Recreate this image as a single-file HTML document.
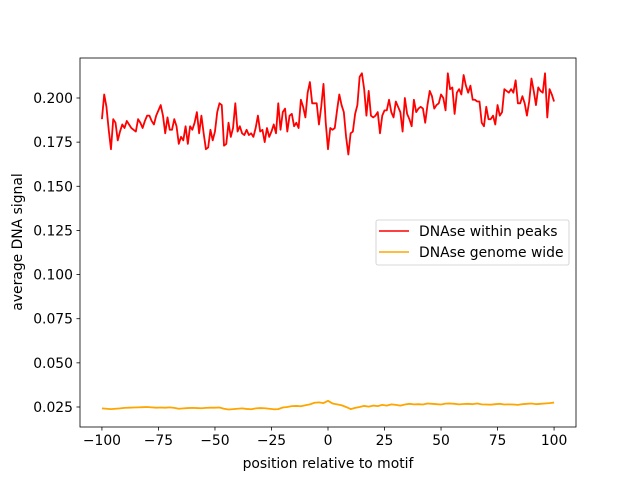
<!DOCTYPE html>
<html><head><meta charset="utf-8"><style>
body{margin:0;background:#fff}
svg text{font-family:"DejaVu Sans","Liberation Sans",sans-serif;font-size:13.9px;fill:#000}
</style></head><body>
<svg id="chart" width="640" height="480" viewBox="0 0 640 480" xmlns="http://www.w3.org/2000/svg">
<rect width="640" height="480" fill="#fff"/>
<g id="plot"></g>
</svg>
<script>
const xTicks=[-100,-75,-50,-25,0,25,50,75,100];
const yTicks=[0.025,0.050,0.075,0.100,0.125,0.150,0.175,0.200];
const yTickLabels=["0.025","0.050","0.075","0.100","0.125","0.150","0.175","0.200"];
const peaksStart=-100;
const peaksValues=[0.188,0.202,0.195,0.182,0.171,0.188,0.186,0.176,0.181,0.185,0.183,0.187,0.185,0.183,0.182,0.181,0.188,0.186,0.183,0.187,0.190,0.190,0.187,0.185,0.190,0.193,0.196,0.190,0.180,0.189,0.182,0.182,0.188,0.184,0.174,0.178,0.176,0.184,0.174,0.184,0.182,0.186,0.192,0.180,0.190,0.180,0.171,0.172,0.182,0.176,0.181,0.192,0.197,0.196,0.173,0.174,0.186,0.178,0.183,0.197,0.181,0.184,0.180,0.179,
0.182,0.179,0.180,0.178,0.183,0.190,0.181,0.182,0.175,0.183,0.178,0.181,0.185,0.180,0.197,0.182,0.192,0.194,0.181,0.190,0.191,0.184,0.186,0.183,0.199,0.195,0.189,0.203,0.209,0.197,0.197,0.197,0.185,0.195,0.208,0.186,0.171,0.183,0.182,0.183,0.193,0.202,0.196,0.192,0.178,0.168,0.180,0.181,0.191,0.196,0.212,0.214,0.205,0.190,0.204,0.190,0.189,0.190,0.192,0.180,0.190,0.193,0.193,0.199,0.192,0.189,0.198,0.195,0.192,0.181,0.200,0.191,0.188,0.184,0.199,0.192,0.194,0.195,0.194,0.186,0.196,0.204,0.201,0.194,0.196,0.197,0.202,0.200,0.193,0.214,0.205,0.206,0.191,0.203,0.205,0.202,0.213,0.207,0.203,0.207,0.199,0.199,0.198,0.198,0.186,0.184,0.195,0.188,0.188,0.190,0.185,0.196,0.190,0.192,0.205,0.204,0.203,0.205,0.203,0.210,0.197,0.197,0.201,0.197,0.190,0.198,0.211,0.204,0.196,0.206,0.204,0.203,0.214,0.189,0.205,0.202,0.198];
const genomeStart=-100, genomeStep=2;
const genomeValues=[.0242,.0240,.0238,.0240,.0242,.0245,.0246,.0247,.0248,.0249,
.0250,.0248,.0246,.0247,.0246,.0248,.0245,.0240,.0242,.0244,
.0245,.0244,.0243,.0245,.0246,.0246,.0247,.0240,.0236,.0238,
.0240,.0242,.0239,.0237,.0242,.0244,.0243,.0240,.0237,.0238,
.0247,.0250,.0255,.0256,.0254,.0260,.0265,.0274,.0276,.0272,
.0285,.0270,.0265,.0260,.0250,.0238,.0245,.0250,.0256,.0252,
.0258,.0255,.0262,.0258,.0265,.0262,.0258,.0264,.0268,.0265,
.0266,.0264,.0270,.0268,.0266,.0264,.0269,.0270,.0268,.0265,
.0267,.0268,.0266,.0270,.0265,.0264,.0263,.0266,.0268,.0264,
.0265,.0264,.0262,.0266,.0268,.0270,.0266,.0268,.0270,.0272,.0275];
const L=80,R=576,T=58,B=427;
const xMin=-109.7,xMax=109.7,yMin=0.01367,yMax=0.22265;
function X(v){return L+(v-xMin)/(xMax-xMin)*(R-L);}
function Y(v){return B-(v-yMin)/(yMax-yMin)*(B-T);}
const NS="http://www.w3.org/2000/svg";
const g=document.getElementById('plot');
function mk(t,a,txt){const e=document.createElementNS(NS,t);for(const k in a)e.setAttribute(k,a[k]);if(txt!==undefined)e.textContent=txt;g.appendChild(e);return e;}
function line(vals,start,step,color,name){
  const p=vals.map((v,i)=>X(start+i*step).toFixed(2)+','+Y(v).toFixed(2)).join(' ');
  const e=mk('polyline',{points:p,fill:'none',stroke:color,'stroke-width':1.8,'stroke-linejoin':'round'});
  
  
}
line(peaksValues,peaksStart,1,'#ff0000','dnase-within-peaks-line');
line(genomeValues,genomeStart,genomeStep,'#ffa500','dnase-genome-wide-line');
const fr=mk('rect',{x:L,y:T,width:R-L,height:B-T,fill:'none',stroke:'#000','stroke-width':0.8});


xTicks.forEach(t=>{
  const x=X(t);
  const tk=mk('line',{x1:x,x2:x,y1:B,y2:B+3.5,stroke:'#000','stroke-width':0.8});
  
  
  const lb=mk('text',{x:x,y:B+18,'text-anchor':'middle'},String(t).replace('-','\u2212'));
  
  
});
yTicks.forEach((t,i)=>{
  const y=Y(t);
  const tk=mk('line',{x1:L-3.5,x2:L,y1:y,y2:y,stroke:'#000','stroke-width':0.8});
  
  
  const lb=mk('text',{x:L-7,y:y+5,'text-anchor':'end'},yTickLabels[i]);
  
  
});
const xt=mk('text',{x:(L+R)/2,y:468,'text-anchor':'middle'},'position relative to motif');


const yt=mk('text',{x:0,y:0,'text-anchor':'middle',transform:'translate(22,242) rotate(-90)'},'average DNA signal');


const lg=mk('rect',{x:376,y:220,width:193,height:45,rx:2,fill:'#fff','fill-opacity':0.8,stroke:'#cccccc','stroke-width':0.8});


[['DNAse within peaks','#ff0000',231],['DNAse genome wide','#ffa500',252]].forEach(([t,c,y])=>{
  const l=mk('line',{x1:379,x2:409,y1:y,y2:y,stroke:c,'stroke-width':1.5});
  
  
  const tx=mk('text',{x:419,y:y+5},t);
  
  
});
</script>
</body></html>
